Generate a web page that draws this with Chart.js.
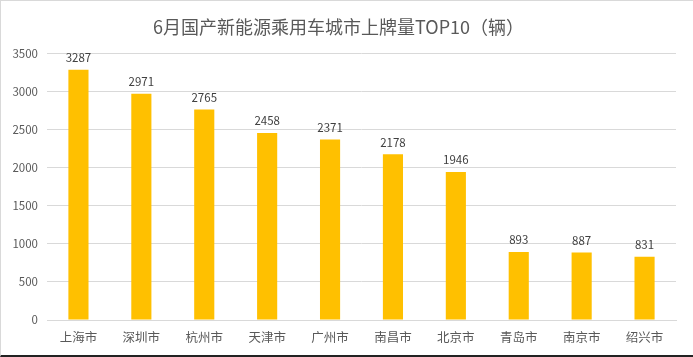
<!DOCTYPE html>
<html>
<head>
<meta charset="utf-8">
<script src="https://cdn.jsdelivr.net/npm/chart.js@4"></script>
<style>
html,body{margin:0;padding:0;background:#fff;}
#wrap{position:relative;width:693px;height:357px;box-sizing:border-box;border-left:1px solid #d9d9d9;border-top:1px solid #d9d9d9;border-bottom:2px solid #222;}
canvas{display:block;}
</style>
</head>
<body>
<div id="wrap"><canvas id="c" width="692" height="354"></canvas></div>
<script>
const categories = ["上海市","深圳市","杭州市","天津市","广州市","南昌市","北京市","青岛市","南京市","绍兴市"];
const values = [3287,2971,2765,2458,2371,2178,1946,893,887,831];
const yTicks = [0,500,1000,1500,2000,2500,3000,3500];
const titleText = "6月国产新能源乘用车城市上牌量TOP10（辆）";

const FONT = "'Noto Sans CJK SC','Microsoft YaHei',sans-serif";

const labelPlugin = {
  id: 'valueLabels',
  afterDatasetsDraw(chart) {
    const ctx = chart.ctx;
    const meta = chart.getDatasetMeta(0);
    ctx.save();
    ctx.font = "11.5px " + FONT;
    ctx.fillStyle = "#404040";
    ctx.textAlign = "center";
    ctx.textBaseline = "middle";
    meta.data.forEach((bar, i) => {
      ctx.fillText(String(values[i]), bar.x, bar.y - 12);
    });
    ctx.restore();
  }
};

new Chart(document.getElementById('c'), {
  type: 'bar',
  data: {
    labels: categories,
    datasets: [{
      data: values,
      backgroundColor: '#FFC000',
      categoryPercentage: 1,
      barPercentage: 0.32
    }]
  },
  options: {
    responsive: false,
    animation: false,
    devicePixelRatio: 1,
    layout: { padding: { left: 0, right: 17, top: 0, bottom: 0 } },
    plugins: {
      legend: { display: false },
      tooltip: { enabled: false },
      title: {
        display: true,
        text: titleText,
        color: '#595959',
        font: { family: FONT, size: 18, weight: 'normal' },
        padding: { top: 15, bottom: 16 }
      }
    },
    scales: {
      x: {
        grid: { display: false, drawTicks: false },
        border: { display: true, color: '#d9d9d9', width: 1 },
        ticks: { color: '#595959', font: { family: FONT, size: 12.5 }, padding: 10, maxRotation: 0 }
      },
      y: {
        min: 0, max: 3500,
        afterBuildTicks(scale) { scale.ticks = yTicks.map(v => ({ value: v })); },
        afterFit(scale) { scale.width = 46; },
        grid: { color: '#d9d9d9', drawTicks: false },
        border: { display: false },
        ticks: { color: '#595959', font: { family: FONT, size: 11.5 }, padding: 9, callback: (v) => String(v) }
      }
    }
  },
  plugins: [labelPlugin]
});
</script>
</body>
</html>
